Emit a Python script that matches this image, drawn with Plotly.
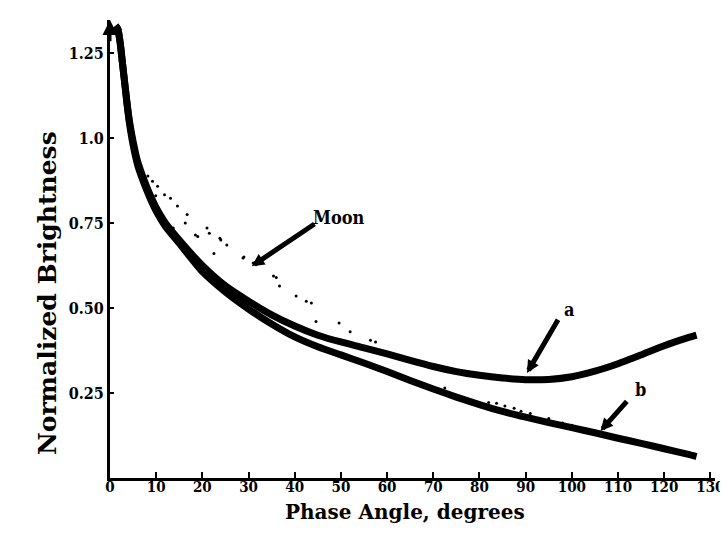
import plotly.graph_objects as go

# Curve a (phase angle in degrees, normalized brightness)
phase_a = [1.2, 1.7, 2.2, 2.7, 3.2, 3.7, 4.2, 5, 6, 7, 8, 9, 10, 12, 15, 20, 25, 30, 35,
           40, 45, 50, 55, 60, 65, 70, 75, 80, 85, 90, 95, 100, 105, 110, 115, 120,
           125, 127]
bright_a = [1.33, 1.32, 1.28, 1.22, 1.16, 1.10, 1.05, 0.99, 0.93, 0.89, 0.855, 0.823,
            0.795, 0.75, 0.70, 0.625, 0.565, 0.52, 0.48, 0.447, 0.42, 0.40, 0.383,
            0.365, 0.346, 0.328, 0.313, 0.302, 0.294, 0.289, 0.290, 0.298, 0.314,
            0.336, 0.362, 0.389, 0.412, 0.42]

# Curve b
phase_b = [1.2, 1.7, 2.2, 2.7, 3.2, 3.7, 4.2, 5, 6, 7, 8, 9, 10, 12, 15, 20, 25, 30, 35,
           40, 45, 50, 55, 60, 65, 70, 75, 80, 85, 90, 95, 100, 105, 110, 115, 120,
           125, 127]
bright_b = [1.33, 1.32, 1.28, 1.22, 1.16, 1.10, 1.045, 0.98, 0.92, 0.88, 0.845, 0.813,
            0.785, 0.74, 0.69, 0.607, 0.547, 0.497, 0.453, 0.415, 0.386, 0.362, 0.338,
            0.313, 0.287, 0.262, 0.238, 0.216, 0.196, 0.179, 0.163, 0.148, 0.133,
            0.117, 0.102, 0.086, 0.070, 0.063]

# Moon observations (scattered dots)
moon_phase = [8.2, 9.2, 10.3, 9.9, 11.8, 13.1, 14.6, 16.7, 11.0, 16.3, 18.5, 13.7,
              19.0, 21.0, 22.5, 23.8, 25.3, 21.5, 24.0, 28.8, 29.0, 31.0, 35.4, 36.0,
              36.7, 40.3, 42.5, 43.6, 44.6, 49.6, 52.0, 56.4, 57.5, 72.5, 82.0, 83.7,
              85.5, 87.5, 89.0, 91.0, 95.0, 98.0, 100.0, 103.0]
moon_bright = [0.888, 0.873, 0.858, 0.83, 0.833, 0.823, 0.80, 0.775, 0.765, 0.75, 0.715,
               0.735, 0.71, 0.735, 0.66, 0.705, 0.685, 0.72, 0.70, 0.647, 0.65, 0.632,
               0.594, 0.59, 0.565, 0.535, 0.52, 0.515, 0.46, 0.456, 0.43, 0.405, 0.40,
               0.265, 0.222, 0.22, 0.212, 0.205, 0.196, 0.19, 0.175, 0.162, 0.155, 0.145]

x_ticks = [0, 10, 20, 30, 40, 50, 60, 70, 80, 90, 100, 110, 120, 130]
x_labels = ["0", "10", "20", "30", "40", "50", "60", "70", "80", "90", "100", "110", "120", "130"]
y_ticks = [0.25, 0.50, 0.75, 1.0, 1.25]
y_labels = ["0.25", "0.50", "0.75", "1.0", "1.25"]

FONT = "DejaVu Serif Condensed, DejaVu Serif, Liberation Serif, serif"
WIDE = "DejaVu Serif, Liberation Serif, serif"

fig = go.Figure()
fig.add_trace(go.Scatter(x=moon_phase, y=moon_bright, mode="markers",
                         marker=dict(color="black", size=3), name="Moon",
                         showlegend=False))
fig.add_trace(go.Scatter(x=phase_a, y=bright_a, mode="lines",
                         line=dict(color="black", width=7, shape="spline", smoothing=0.6),
                         name="a", showlegend=False))
fig.add_trace(go.Scatter(x=phase_b, y=bright_b, mode="lines",
                         line=dict(color="black", width=7, shape="spline", smoothing=0.6),
                         name="b", showlegend=False))

fig.update_xaxes(range=[0, 131], tickvals=x_ticks,
                 ticktext=["<b>%s</b>" % t for t in x_labels],
                 showline=True, linecolor="black", linewidth=3,
                 ticks="inside", ticklen=6, tickwidth=2, tickcolor="black",
                 ticklabelstandoff=-7,
                 showgrid=False, zeroline=False,
                 tickfont=dict(family=FONT, size=15, color="black"))
fig.update_yaxes(range=[0, 1.347], tickvals=y_ticks,
                 ticktext=["<b>%s</b>" % t for t in y_labels],
                 showline=True, linecolor="black", linewidth=3,
                 ticks="inside", ticklen=4, tickwidth=2, tickcolor="black",
                 showgrid=False, zeroline=False,
                 tickfont=dict(family=FONT, size=16, color="black"))

ann = []
# axis titles
ann.append(dict(text="<b>Phase Angle, degrees</b>", xref="paper", yref="paper",
                x=0.487, y=-0.105, showarrow=False,
                font=dict(family=WIDE, size=20, color="black")))
ann.append(dict(text="<b>Normalized Brightness</b>", xref="paper", yref="paper",
                x=-0.1295, y=0.404, textangle=-90, showarrow=False,
                font=dict(family=WIDE, size=25, color="black")))
# labels with arrows
ann.append(dict(text="<b>Moon</b>", x=43.6, y=0.765, xref="x", yref="y",
                xanchor="left", showarrow=False,
                font=dict(family=FONT, size=18, color="black")))
ann.append(dict(text="", x=30.7, y=0.623, ax=44.6, ay=0.75, xref="x", yref="y",
                axref="x", ayref="y", showarrow=True, arrowhead=2, arrowsize=0.5,
                arrowwidth=5, arrowcolor="black"))
ann.append(dict(text="<b>a</b>", x=99.6, y=0.495, xref="x", yref="y",
                showarrow=False, font=dict(family=FONT, size=18, color="black")))
ann.append(dict(text="", x=90.3, y=0.309, ax=97.2, ay=0.47, xref="x", yref="y",
                axref="x", ayref="y", showarrow=True, arrowhead=2, arrowsize=0.5,
                arrowwidth=5, arrowcolor="black"))
ann.append(dict(text="<b>b</b>", x=114.8, y=0.26, xref="x", yref="y",
                showarrow=False, font=dict(family=FONT, size=18, color="black")))
ann.append(dict(text="", x=106.2, y=0.138, ax=112.2, ay=0.23, xref="x", yref="y",
                axref="x", ayref="y", showarrow=True, arrowhead=2, arrowsize=0.5,
                arrowwidth=5, arrowcolor="black"))
# arrow tip on top of vertical axis
ann.append(dict(text="", x=0, y=1.347, ax=0, ay=1.28, xref="x", yref="y",
                axref="x", ayref="y", showarrow=True, arrowhead=2, arrowsize=1,
                arrowwidth=3, arrowcolor="black"))

fig.update_layout(width=728, height=538,
                  margin=dict(l=102, r=16, t=12, b=68),
                  plot_bgcolor="white", paper_bgcolor="white",
                  annotations=ann, showlegend=False)

fig.write_html("out.html")
